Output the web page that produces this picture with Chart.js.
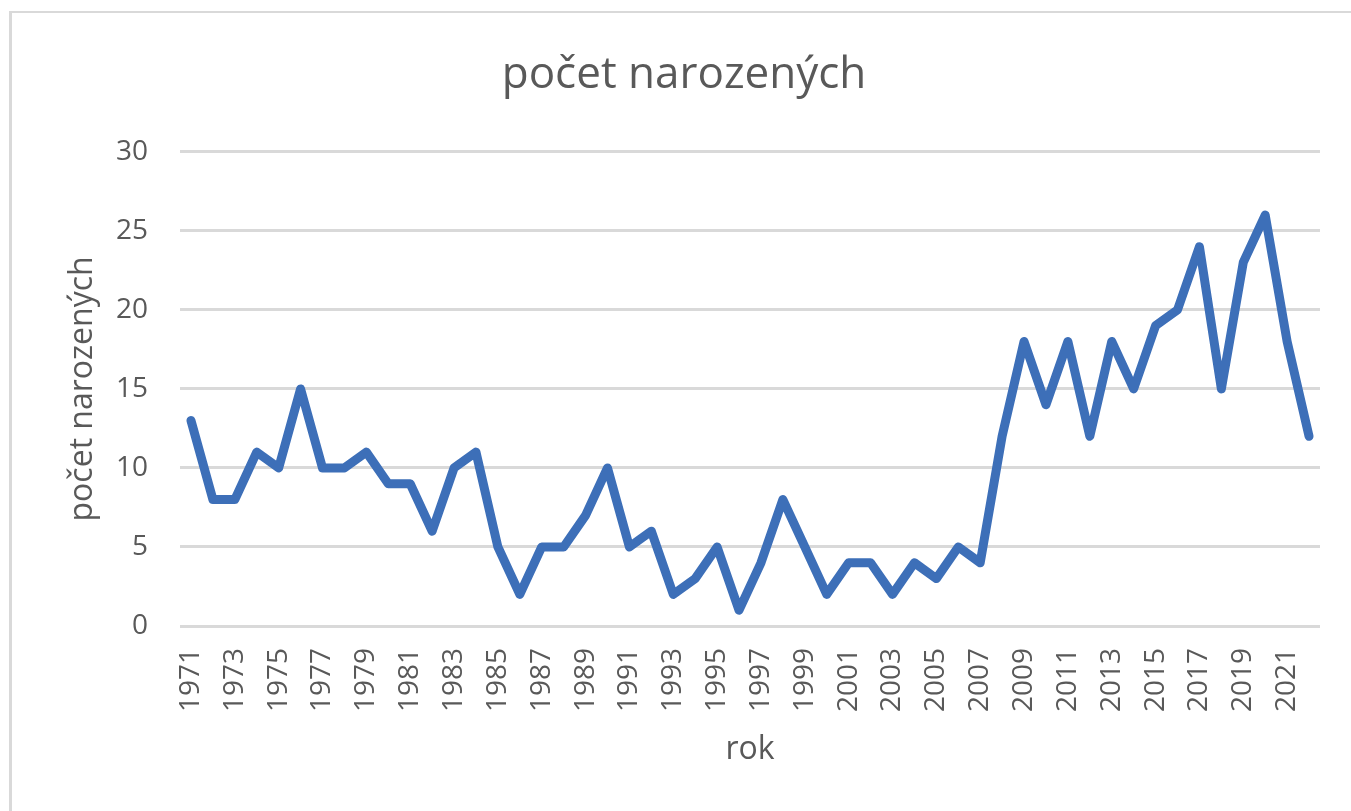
<!DOCTYPE html>
<html>
<head>
<meta charset="utf-8">
<script src="https://cdn.jsdelivr.net/npm/chart.js@4/dist/chart.umd.min.js"></script>
<style>
  html, body { margin: 0; padding: 0; background: #fff; }
  #wrap { position: relative; width: 1351px; height: 811px; }
  #frame {
    position: absolute; left: 9px; top: 11px; right: 0; bottom: 0;
    border-left: 3px solid #d9d9d9; border-top: 2px solid #d9d9d9;
  }
  canvas { position: absolute; left: 0; top: 0; }
</style>
</head>
<body>
<div id="wrap">
  <div id="frame"></div>
  <canvas id="chart" width="1351" height="811"></canvas>
</div>
<script>
// roky 1971 - 2022
const years = [
  1971, 1972, 1973, 1974, 1975, 1976, 1977, 1978, 1979, 1980,
  1981, 1982, 1983, 1984, 1985, 1986, 1987, 1988, 1989, 1990,
  1991, 1992, 1993, 1994, 1995, 1996, 1997, 1998, 1999, 2000,
  2001, 2002, 2003, 2004, 2005, 2006, 2007, 2008, 2009, 2010,
  2011, 2012, 2013, 2014, 2015, 2016, 2017, 2018, 2019, 2020,
  2021, 2022
]
const births = [
  13, 8, 8, 11, 10, 15, 10, 10, 11, 9,
  9, 6, 10, 11, 5, 2, 5, 5, 7, 10,
  5, 6, 2, 3, 5, 1, 4, 8, 5, 2,
  4, 4, 2, 4, 3, 5, 4, 12, 18, 14,
  18, 12, 18, 15, 19, 20, 24, 15, 23, 26,
  18, 12
]
const yTicks = [0, 5, 10, 15, 20, 25, 30]

const textColor = '#595959'
const gridColor = '#d9d9d9'
const fontFamily = "'Open Sans', Lato, sans-serif"

const ctx = document.getElementById('chart').getContext('2d')
new Chart(ctx, {
  type: 'line',
  data: {
    labels: years.map(String),
    datasets: [{
      label: 'počet narozených',
      data: births,
      borderColor: '#3d6fb8',
      borderWidth: 9,
      borderJoinStyle: 'round',
      borderCapStyle: 'round',
      pointRadius: 0,
      tension: 0,
      fill: false
    }]
  },
  options: {
    responsive: false,
    animation: false,
    layout: { padding: { left: 48, right: 31, top: 0, bottom: 40 } },
    plugins: {
      legend: { display: false },
      tooltip: { enabled: false },
      title: {
        display: true,
        text: 'počet narozených',
        color: textColor,
        font: { family: fontFamily, size: 44, weight: 'normal' },
        padding: { top: 49, bottom: 50 }
      }
    },
    scales: {
      x: {
        offset: true,
        grid: { display: false, drawTicks: false },
        border: { display: false },
        ticks: {
          color: textColor,
          font: { family: fontFamily, size: 28 },
          autoSkip: false,
          maxRotation: 90,
          minRotation: 90,
          padding: 22,
          callback: function (val, i) { return i % 2 === 0 ? this.getLabelForValue(val) : '' }
        },
        title: {
          display: true,
          text: 'rok',
          color: textColor,
          font: { family: fontFamily, size: 32 },
          padding: { top: 4, bottom: 2 }
        },
        afterFit: (scale) => {
          scale.height = 811 - 626 - 40
          scale.paddingLeft = 0
          scale.paddingRight = 0
        }
      },
      y: {
        min: 0,
        max: 30,
        afterBuildTicks: (scale) => { scale.ticks = yTicks.map(v => ({ value: v })) },
        grid: { color: gridColor, lineWidth: 3, drawTicks: false },
        border: { display: false },
        ticks: {
          color: textColor,
          font: { family: fontFamily, size: 28 },
          padding: 32
        },
        title: {
          display: true,
          text: 'počet narozených',
          color: textColor,
          font: { family: fontFamily, size: 32 },
          padding: { top: 16, bottom: 0 }
        },
        afterFit: (scale) => { scale.width = 180 - 48 }
      }
    }
  }
})
</script>
</body>
</html>
